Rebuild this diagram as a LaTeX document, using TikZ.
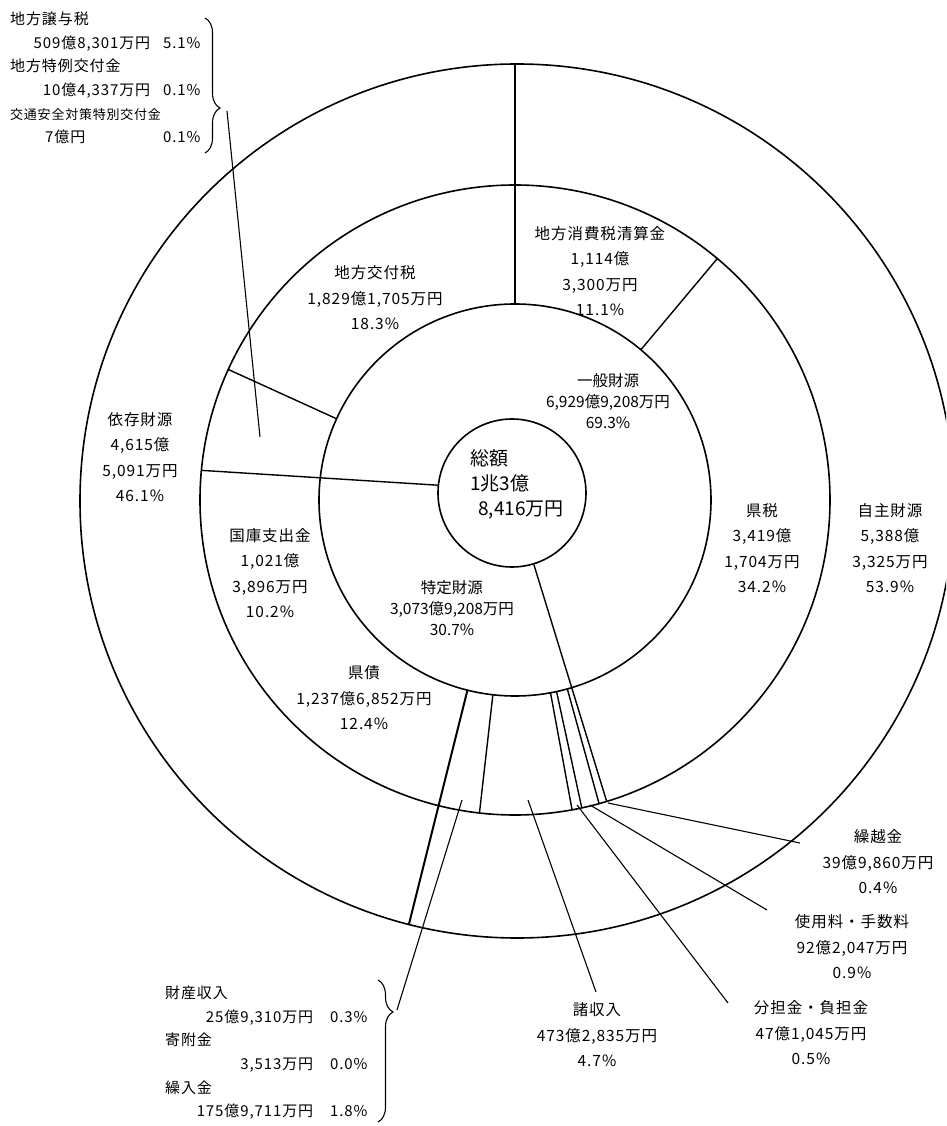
\documentclass[tikz,border=0pt]{standalone}
\usepackage{fontspec}
\usepackage{array}
\setmainfont{Noto Sans CJK JP}[LetterSpace=6]
\newfontfamily\gothic{Noto Sans CJK JP}
\usetikzlibrary{decorations.pathreplacing}

\tikzset{
  ring/.style={line width=1.6pt},
  cut/.style={line width=1.4pt},
  ptr/.style={line width=1.1pt},
  lbl/.style={font=\fontsize{15.5}{25.5}\selectfont, align=center, inner sep=0pt},
  glbl/.style={font=\gothic\fontsize{15.5}{21}\selectfont, align=center, inner sep=0pt},
  grp/.style={font=\fontsize{15}{23.6}\selectfont, inner sep=0pt},
  curly/.style={line width=1.1pt, decorate, decoration={brace, amplitude=15pt}},
}

\begin{document}
\begin{tikzpicture}[x=1pt, y=1pt]
  \useasboundingbox (-515,500) rectangle (431,-626);
  \clip (-515,500) rectangle (431,-626);

  % rings
  \coordinate (c) at (0,0);
  \node[circle, draw, ring, minimum size=148pt, inner sep=0pt] (sum) at (-3,7) {};
  \draw[ring] (c) circle[radius=196];
  \draw[ring] (c) circle[radius=315];
  \draw[ring] (2,-1) circle[radius=437];

  % own / dependent revenue
  \draw[cut] (90:196) -- (90:436);
  \draw[cut, line width=2pt] (-104.04:196) -- (-104.04:437.5);
  % general / specific revenue
  \draw[cut] (sum.-73.08) -- (-73.08:315);
  \draw[cut] (sum.174.6) -- (174.6:315);
  % items
  \foreach \a in {50.04,-74.52,-77.76,-79.56,-96.48,155.52}
    \draw[cut] (\a:196) -- (\a:315);

  % labels
  \node[lbl] (seisan) at (85,229) {地方消費税清算金\\1,114億\\3,300万円\\11.1\%};
  \node[lbl] (kofu) at (-140,202) {地方交付税\\1,829億1,705万円\\18.3\%};
  \node[lbl] (izon) at (-375,43) {依存財源\\4,615億\\5,091万円\\46.1\%};
  \node[lbl] (kenzei) at (247,-48) {県税\\3,419億\\1,704万円\\34.2\%};
  \node[lbl] (jishu) at (375,-48) {自主財源\\5,388億\\3,325万円\\53.9\%};
  \node[lbl] (kokko) at (-245,-73) {国庫支出金\\1,021億\\3,896万円\\10.2\%};
  \node[lbl] (kensai) at (-151,-198) {県債\\1,237億6,852万円\\12.4\%};
  \node[lbl] (kurikoshi) at (363,-362) {繰越金\\39億9,860万円\\0.4\%};
  \node[lbl] (shiyo) at (337,-447) {使用料・手数料\\92億2,047万円\\0.9\%};
  \node[lbl] (buntan) at (296,-533) {分担金・負担金\\47億1,045万円\\0.5\%};
  \node[lbl] (shoshu) at (82,-535) {諸収入\\473億2,835万円\\4.7\%};
  \node[glbl] (ippan) at (93,99) {一般財源\\6,929億9,208万円\\69.3\%};
  \node[glbl] (tokutei) at (-63,-108) {特定財源\\3,073億9,208万円\\30.7\%};
  \node[font=\gothic\fontsize{19}{25}\selectfont, align=left, inner sep=0pt, anchor=north west]
    (sogaku) at (-45,51) {総額\\1兆3億\\\hspace*{8pt}8,416万円};

  % grouped items
  \node[grp, anchor=north west] (joyo) at (-505,492) {%
    \begin{tabular}{@{}>{\raggedleft\arraybackslash}p{140pt}@{\hspace{13pt}}r@{}}
      \multicolumn{2}{@{}l@{}}{地方譲与税}\\
      509億8,301万円 & 5.1\%\\
      \multicolumn{2}{@{}l@{}}{地方特例交付金}\\
      10億4,337万円 & 0.1\%\\
      \multicolumn{2}{@{}l@{}}{\fontsize{13}{23.6}\selectfont 交通安全対策特別交付金}\\
      \multicolumn{1}{@{\hspace{35pt}}l}{7億円} & 0.1\%
    \end{tabular}};
  \node[grp, anchor=north west] (zaisan) at (-350,-482) {%
    \begin{tabular}{@{}>{\raggedleft\arraybackslash}p{148pt}@{\hspace{17pt}}r@{}}
      \multicolumn{2}{@{}l@{}}{財産収入}\\
      25億9,310万円 & 0.3\%\\
      \multicolumn{2}{@{}l@{}}{寄附金}\\
      3,513万円 & 0.0\%\\
      \multicolumn{2}{@{}l@{}}{繰入金}\\
      175億9,711万円 & 1.8\%
    \end{tabular}};

  % braces
  \draw[curly, decoration={aspect=0.667}] (-310,482) -- (-310,347);
  \draw[curly, decoration={aspect=0.225}] (-137,-480) -- (-137,-622);
  \coordinate (joyotip) at (-288,389);
  \coordinate (zaisantip) at (-118,-510);

  % pointers
  \coordinate (inJoyo) at (-255,63);
  \coordinate (inZaisan) at (-53,-300);
  \coordinate (inShoshu) at (13,-300);
  \coordinate (inBuntan) at (62,-305);
  \coordinate (inShiyo) at (75,-305);
  \coordinate (inKuri) at (93,-303);
  \coordinate (endShoshu) at (81,-492);
  \coordinate (endBuntan) at (213,-503);
  \coordinate (endShiyo) at (252,-410);
  \coordinate (endKuri) at (285,-343);
  \draw[ptr] (inJoyo) -- (joyotip);
  \draw[ptr] (inZaisan) -- (zaisantip);
  \draw[ptr] (inShoshu) -- (endShoshu);
  \draw[ptr] (inBuntan) -- (endBuntan);
  \draw[ptr] (inShiyo) -- (endShiyo);
  \draw[ptr] (inKuri) -- (endKuri);
\end{tikzpicture}
\end{document}
